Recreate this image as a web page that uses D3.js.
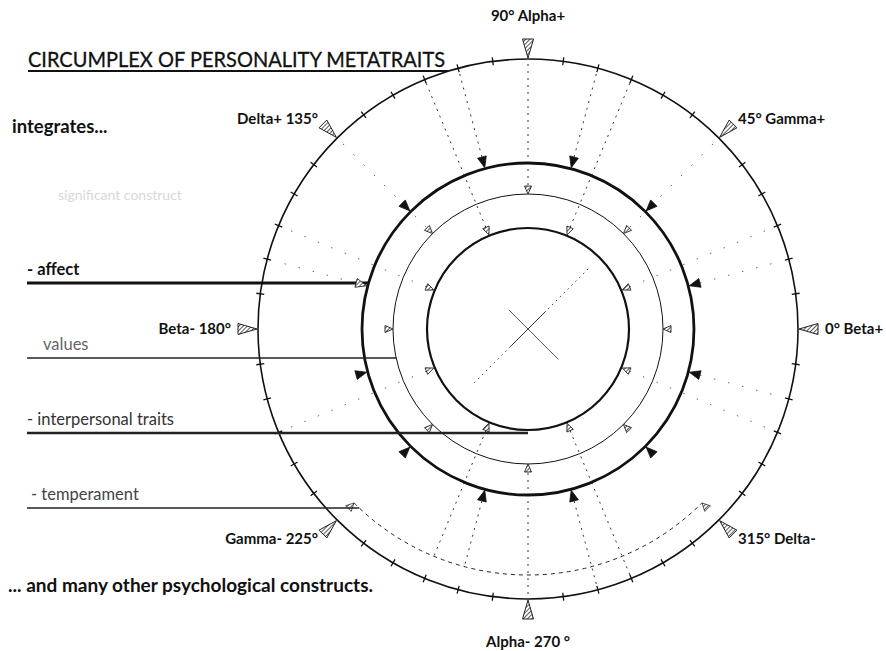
<!DOCTYPE html>
<html>
<head>
<meta charset="utf-8">
<script src="https://cdn.jsdelivr.net/npm/d3@7"></script>
<style>
  body { margin: 0; background: #fff; }
  svg { display: block; font-family: Lato, "Open Sans", sans-serif; }
</style>
</head>
<body>
<script>
// Poles around the circumplex (degrees) and their labels
const poleAngles = [0, 45, 90, 135, 180, 225, 270, 315];
const poleLabels = ["0° Beta+", "45° Gamma+", "90° Alpha+", "Delta+ 135°",
                    "Beta- 180°", "Gamma- 225°", "Alpha- 270 °", "315° Delta-"];

// Marker angles on the three inner rings
const thickMarkers = [15, 45, 75, 105, 135, 165, 195, 225, 255, 285, 315, 345];
const thinMarkers = [0, 45, 90, 135, 180, 225, 270, 315];
const innerMarkers = [22.5, 67.5, 112.5, 157.5, 202.5, 247.5, 292.5, 337.5];

// Tick spacing on the outer ring
const tickStep = 7.5;

// Constructs on the left and the ring each one runs into
const constructs = ["- affect", "values", "- interpersonal traits", "- temperament"];
const constructRings = ["thick", "thin", "inner", "arc"];

// Dashed arc below the circle
const arcSpan = [225, 315];

// Radial guide lines
const guideAngles = [67.5, 75, 90, 105, 112.5, 247.5, 255, 270, 285, 292.5];
const guideEnds = ["outer", "outer", "outer", "outer", "outer", "arc", "arc", "outer", "outer", "outer"];
const faintGuideAngles = [15, 22.5, 45, 135, 157.5, 165, 202.5, 337.5, 345];

// Layout
const width = 886;
const height = 651;
const cx = 528;
const cy = 329;
const rings = { inner: 101, thin: 135, thick: 166, arc: 246, outer: 270 };

const svg = d3.select("body")
    .append("svg")
    .attr("width", width)
    .attr("height", height);

// Hatch pattern for the pole arrows
const defs = svg.append("defs");
const hatch = defs.append("pattern")
    .attr("id", "hatch")
    .attr("width", 3)
    .attr("height", 3)
    .attr("patternUnits", "userSpaceOnUse")
    .attr("patternTransform", "rotate(45)");
hatch.append("rect").attr("width", 3).attr("height", 3).attr("fill", "#fff");
hatch.append("line").attr("x1", 0).attr("y1", 0).attr("x2", 0).attr("y2", 3)
    .attr("stroke", "#222").attr("stroke-width", 1.5);

// Degrees -> radians
const angle = d3.scaleLinear().domain([0, 360]).range([0, 2 * Math.PI]);

function polar(r, deg) {
    const a = angle(deg);
    return [cx + r * Math.cos(a), cy - r * Math.sin(a)];
}

// Triangle with its tip on radius r, pointing to the centre
function triangle(r, deg, len, half) {
    const a = angle(deg);
    const ux = Math.cos(a), uy = -Math.sin(a);
    const px = Math.sin(a), py = Math.cos(a);
    const tip = [cx + r * ux, cy + r * uy];
    const bx = cx + (r + len) * ux, by = cy + (r + len) * uy;
    return d3.line()([tip, [bx + half * px, by + half * py], [bx - half * px, by - half * py]]) + "Z";
}

const ink = "#111";

// Radial guides
function markerRadius(deg) {
    if (innerMarkers.includes(deg)) return rings.inner + 9;
    if (thinMarkers.includes(deg)) return rings.thin + 9;
    return rings.thick + 12;
}

svg.append("g")
    .selectAll("line")
    .data(guideAngles)
    .join("line")
    .attr("x1", d => polar(markerRadius(d), d)[0])
    .attr("y1", d => polar(markerRadius(d), d)[1])
    .attr("x2", (d, i) => polar(guideEnds[i] === "arc" ? rings.arc : rings.outer - 4, d)[0])
    .attr("y2", (d, i) => polar(guideEnds[i] === "arc" ? rings.arc : rings.outer - 4, d)[1])
    .attr("stroke", "#333")
    .attr("stroke-width", 1)
    .attr("stroke-dasharray", "2,5");

svg.append("g")
    .selectAll("line")
    .data(faintGuideAngles)
    .join("line")
    .attr("x1", d => polar(markerRadius(d), d)[0])
    .attr("y1", d => polar(markerRadius(d), d)[1])
    .attr("x2", d => polar(rings.outer - 6, d)[0])
    .attr("y2", d => polar(rings.outer - 6, d)[1])
    .attr("stroke", "#666")
    .attr("stroke-width", 1)
    .attr("stroke-dasharray", "1.5,13");

// Centre cross
svg.append("line")
    .attr("x1", polar(85, 45)[0]).attr("y1", polar(85, 45)[1])
    .attr("x2", polar(80, 225)[0]).attr("y2", polar(80, 225)[1])
    .attr("stroke", "#444").attr("stroke-width", 1).attr("stroke-dasharray", "1.5,4");
svg.append("line")
    .attr("x1", polar(25, 45)[0]).attr("y1", polar(25, 45)[1])
    .attr("x2", polar(25, 225)[0]).attr("y2", polar(25, 225)[1])
    .attr("stroke", "#333").attr("stroke-width", 1);
svg.append("line")
    .attr("x1", polar(27, 135)[0]).attr("y1", polar(27, 135)[1])
    .attr("x2", polar(43, 315)[0]).attr("y2", polar(43, 315)[1])
    .attr("stroke", "#555").attr("stroke-width", 1);

// Rings
const ringStyle = [
    { key: "outer", w: 1.6 },
    { key: "thick", w: 2.8 },
    { key: "thin", w: 1 },
    { key: "inner", w: 2.2 }
];
svg.append("g")
    .selectAll("circle")
    .data(ringStyle)
    .join("circle")
    .attr("cx", cx)
    .attr("cy", cy)
    .attr("r", d => rings[d.key])
    .attr("fill", "none")
    .attr("stroke", ink)
    .attr("stroke-width", d => d.w);

// Dashed arc along the bottom
const arcPath = d3.path();
arcPath.arc(cx, cy, rings.arc, -angle(arcSpan[0]), -angle(arcSpan[1]), true);
svg.append("path")
    .attr("d", arcPath.toString())
    .attr("fill", "none")
    .attr("stroke", "#222")
    .attr("stroke-width", 1)
    .attr("stroke-dasharray", "4,4");

svg.append("g")
    .selectAll("path")
    .data(arcSpan)
    .join("path")
    .attr("d", d => triangle(rings.arc, d, 8, 4))
    .attr("fill", "url(#hatch)")
    .attr("stroke", "#333")
    .attr("stroke-width", 0.8);

// Ticks on the outer ring
const tickAngles = d3.range(0, 360, tickStep).filter(d => d % 45 !== 0);
svg.append("g")
    .selectAll("line")
    .data(tickAngles)
    .join("line")
    .attr("x1", d => polar(rings.outer - 4, d)[0])
    .attr("y1", d => polar(rings.outer - 4, d)[1])
    .attr("x2", d => polar(rings.outer + 4, d)[0])
    .attr("y2", d => polar(rings.outer + 4, d)[1])
    .attr("stroke", ink)
    .attr("stroke-width", 1.3);

// Constructs on the left
const rowY = d3.scalePoint().domain(constructs).range([283, 508]);
const constructStyle = {
    "- affect": { w: 3, color: "#111", weight: 700, dx: 0 },
    "values": { w: 1.6, color: "#666", weight: 400, dx: 16 },
    "- interpersonal traits": { w: 2.6, color: "#333", weight: 400, dx: 0 },
    "- temperament": { w: 1.6, color: "#444", weight: 400, dx: 4 }
};

function ringX(ring, y) {
    const r = rings[ring];
    const dy = y - cy;
    return cx - Math.sqrt(Math.max(r * r - dy * dy, 0));
}

const rows = svg.append("g")
    .selectAll("g")
    .data(constructs)
    .join("g");

rows.append("line")
    .attr("x1", 27)
    .attr("x2", (d, i) => ringX(constructRings[i], rowY(d)))
    .attr("y1", d => rowY(d))
    .attr("y2", d => rowY(d))
    .attr("stroke", d => d === "- affect" ? "#111" : "#222")
    .attr("stroke-width", d => constructStyle[d].w);

rows.append("text")
    .attr("x", d => 27 + constructStyle[d].dx)
    .attr("y", d => rowY(d) - 8)
    .attr("font-size", 16.5)
    .attr("font-weight", d => constructStyle[d].weight)
    .attr("fill", d => constructStyle[d].color)
    .text(d => d);

// Markers on the inner rings
svg.append("g")
    .selectAll("path")
    .data(thickMarkers)
    .join("path")
    .attr("d", d => triangle(rings.thick + 1, d, 11, 4.5))
    .attr("fill", d => d === 165 ? "url(#hatch)" : ink)
    .attr("stroke", ink)
    .attr("stroke-width", 0.8);

svg.append("g")
    .selectAll("path")
    .data(thinMarkers)
    .join("path")
    .attr("d", d => triangle(rings.thin, d, 8, 3.5))
    .attr("fill", "url(#hatch)")
    .attr("stroke", "#222")
    .attr("stroke-width", 0.9);

svg.append("g")
    .selectAll("path")
    .data(innerMarkers)
    .join("path")
    .attr("d", d => triangle(rings.inner + 1, d, 8, 3.5))
    .attr("fill", "url(#hatch)")
    .attr("stroke", "#222")
    .attr("stroke-width", 0.9);

// Pole arrows and labels
svg.append("g")
    .selectAll("path")
    .data(poleAngles)
    .join("path")
    .attr("d", d => triangle(rings.outer + 1, d, 19, 5.5))
    .attr("fill", "url(#hatch)")
    .attr("stroke", "#222")
    .attr("stroke-width", 1);

svg.append("g")
    .selectAll("text")
    .data(poleAngles)
    .join("text")
    .attr("x", d => polar(d % 180 === 90 ? 313 : 297, d)[0])
    .attr("y", d => polar(d % 180 === 90 ? 313 : 297, d)[1])
    .attr("dy", "0.35em")
    .attr("text-anchor", d => {
        const c = Math.cos(angle(d));
        return c > 0.1 ? "start" : c < -0.1 ? "end" : "middle";
    })
    .attr("font-size", 15)
    .attr("font-weight", 700)
    .attr("fill", ink)
    .text((d, i) => poleLabels[i]);

// Title and notes
svg.append("text")
    .attr("x", 28)
    .attr("y", 67)
    .attr("font-size", 21)
    .attr("textLength", 417)
    .attr("lengthAdjust", "spacingAndGlyphs")
    .attr("fill", ink)
    .attr("stroke", ink)
    .attr("stroke-width", 0.3)
    .text("CIRCUMPLEX OF PERSONALITY METATRAITS");

svg.append("line")
    .attr("x1", 28)
    .attr("x2", ringX("outer", 71))
    .attr("y1", 71)
    .attr("y2", 71)
    .attr("stroke", ink)
    .attr("stroke-width", 2);

svg.append("text")
    .attr("x", 12)
    .attr("y", 133)
    .attr("font-size", 18.5)
    .attr("font-weight", 700)
    .attr("fill", ink)
    .text("integrates...");

svg.append("text")
    .attr("x", 58)
    .attr("y", 200)
    .attr("font-size", 14)
    .attr("fill", "#d8d8d8")
    .text("significant construct");

svg.append("text")
    .attr("x", 8)
    .attr("y", 592)
    .attr("font-size", 19)
    .attr("font-weight", 700)
    .attr("fill", ink)
    .text("... and many other psychological constructs.");
</script>
</body>
</html>
